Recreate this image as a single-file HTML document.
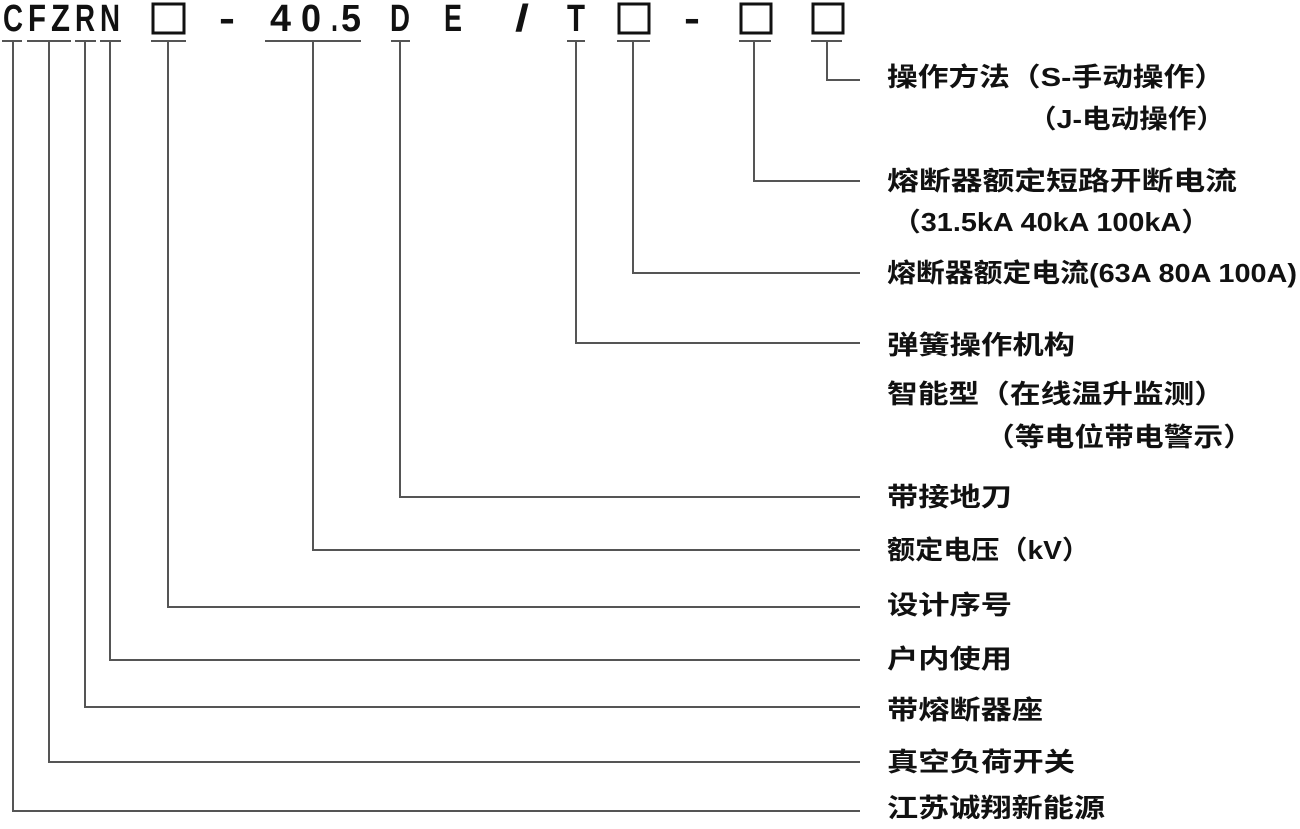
<!DOCTYPE html>
<html><head><meta charset="utf-8"><style>
html,body{margin:0;padding:0;background:#fff;width:1300px;height:829px;overflow:hidden}
svg{display:block}
.c{font-family:"Liberation Sans",sans-serif;font-weight:bold;font-size:38px;fill:#111}
.l{font-family:"Liberation Sans","Noto Sans CJK SC",sans-serif;font-weight:bold;font-size:26px;fill:#111}
</style></head><body>
<svg width="1300" height="829" viewBox="0 0 1300 829">
<g class="c">
<text x="3" y="31" textLength="20" lengthAdjust="spacingAndGlyphs">C</text>
<text x="28" y="31" textLength="18" lengthAdjust="spacingAndGlyphs">F</text>
<text x="51" y="31" textLength="19" lengthAdjust="spacingAndGlyphs">Z</text>
<text x="75" y="31" textLength="20" lengthAdjust="spacingAndGlyphs">R</text>
<text x="100" y="31" textLength="20" lengthAdjust="spacingAndGlyphs">N</text>
<text x="219" y="31" textLength="16" lengthAdjust="spacingAndGlyphs">-</text>
<text x="270" y="31" textLength="21" lengthAdjust="spacingAndGlyphs">4</text>
<text x="301" y="31" textLength="20" lengthAdjust="spacingAndGlyphs">0</text>
<text x="331" y="31" textLength="7" lengthAdjust="spacingAndGlyphs">.</text>
<text x="341" y="31" textLength="20" lengthAdjust="spacingAndGlyphs">5</text>
<text x="390" y="31" textLength="20" lengthAdjust="spacingAndGlyphs">D</text>
<text x="444" y="31" textLength="18" lengthAdjust="spacingAndGlyphs">E</text>
<text x="515" y="31" textLength="14" lengthAdjust="spacingAndGlyphs">/</text>
<text x="567" y="31" textLength="18" lengthAdjust="spacingAndGlyphs">T</text>
<text x="684" y="31" textLength="16" lengthAdjust="spacingAndGlyphs">-</text>
</g>
<g fill="none" stroke="#111" stroke-width="3">
<rect x="153" y="4" width="31" height="29"/>
<rect x="619" y="4" width="30" height="29"/>
<rect x="741" y="4" width="30" height="29"/>
<rect x="813" y="4" width="30" height="29"/>
</g>
<g stroke="#555" stroke-width="2" fill="none">
<path d="M2 41H22M27 41H71M75 41H96M100 41H121M151 41H186M265 41H361M391 41H410M567 41H585M617 41H650M739 41H771M811 41H842"/>
<path d="M13 41V811H860M49 41V762H860M85 41V707H860M110 41V660H860M168 41V607H860M313 41V550H860M400 41V497H860M576 41V343H860M633 41V273H860M754 41V181H860M827 41V80H860"/>
</g>
<g class="l">
<text x="887" y="86" textLength="338" lengthAdjust="spacingAndGlyphs">操作方法（S-手动操作）</text>
<text x="1028" y="128" textLength="197" lengthAdjust="spacingAndGlyphs">（J-电动操作）</text>
<text x="887" y="190" textLength="350" lengthAdjust="spacingAndGlyphs">熔断器额定短路开断电流</text>
<text x="892" y="231" textLength="318" lengthAdjust="spacingAndGlyphs">（31.5kA 40kA 100kA）</text>
<text x="887" y="282" textLength="410" lengthAdjust="spacingAndGlyphs">熔断器额定电流(63A 80A 100A)</text>
<text x="887" y="354" textLength="188" lengthAdjust="spacingAndGlyphs">弹簧操作机构</text>
<text x="887" y="403" textLength="338" lengthAdjust="spacingAndGlyphs">智能型（在线温升监测）</text>
<text x="985" y="446" textLength="268" lengthAdjust="spacingAndGlyphs">（等电位带电警示）</text>
<text x="887" y="506" textLength="125" lengthAdjust="spacingAndGlyphs">带接地刀</text>
<text x="887" y="559" textLength="203" lengthAdjust="spacingAndGlyphs">额定电压（kV）</text>
<text x="887" y="614" textLength="125" lengthAdjust="spacingAndGlyphs">设计序号</text>
<text x="887" y="668" textLength="125" lengthAdjust="spacingAndGlyphs">户内使用</text>
<text x="887" y="719" textLength="156" lengthAdjust="spacingAndGlyphs">带熔断器座</text>
<text x="887" y="771" textLength="188" lengthAdjust="spacingAndGlyphs">真空负荷开关</text>
<text x="887" y="817" textLength="218" lengthAdjust="spacingAndGlyphs">江苏诚翔新能源</text>
</g>
</svg>
</body></html>
